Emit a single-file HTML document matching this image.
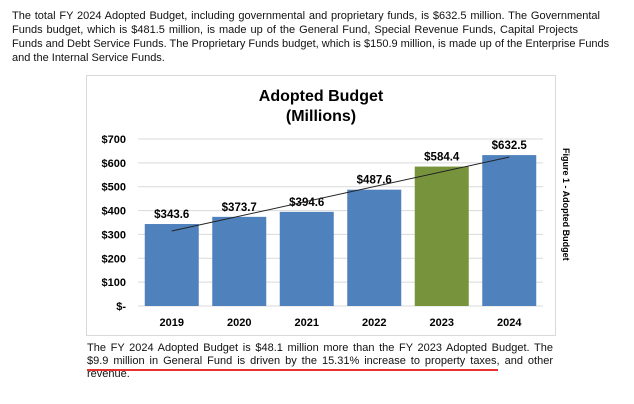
<!DOCTYPE html>
<html><head><meta charset="utf-8"><style>
body{margin:0;width:634px;height:404px;background:#fff;position:relative;overflow:hidden;font-family:"Liberation Sans",sans-serif}
.p{position:absolute;font-size:11px;color:#111}
.p div{white-space:nowrap;text-align:justify;text-align-last:justify}
.p div.last{text-align-last:left}
</style></head><body>
<div class="p" style="left:12px;top:9px;line-height:14px">
<div style="width:588px">The total FY 2024 Adopted Budget, including governmental and proprietary funds, is $632.5 million. The Governmental</div>
<div style="width:566px">Funds budget, which is $481.5 million, is made up of the General Fund, Special Revenue Funds, Capital Projects</div>
<div style="width:591px">Funds and Debt Service Funds. The Proprietary Funds budget, which is $150.9 million, is made up of the Enterprise Funds</div>
<div class="last" style="width:200px">and the Internal Service Funds.</div>
</div>
<div class="p" style="left:87px;top:342px;line-height:13px">
<div style="width:466px">The FY 2024 Adopted Budget is $48.1 million more than the FY 2023 Adopted Budget. The</div>
<div style="width:466px">$9.9 million in General Fund is driven by the 15.31% increase to property taxes, and other</div>
<div class="last" style="width:100px">revenue.</div>
</div>
<div style="position:absolute;left:87px;top:369px;width:411px;height:2px;background:#e8312f"></div>
<svg id="c" width="634" height="404" style="position:absolute;left:0;top:0" xmlns="http://www.w3.org/2000/svg" font-family="Liberation Sans, sans-serif">
<rect x="86.5" y="75.5" width="469" height="260" fill="none" stroke="#d9d9d9"/>
<text x="321" y="101" text-anchor="middle" font-size="16" font-weight="bold">Adopted Budget</text>
<text x="321" y="121" text-anchor="middle" font-size="16" font-weight="bold">(Millions)</text>
<text transform="translate(563,148) rotate(90)" font-size="9" font-weight="bold">Figure 1 -  Adopted Budget</text>
<g id="g"></g>
</svg>
<script>
const years=["2019","2020","2021","2022","2023","2024"];
const values=[343.6,373.7,394.6,487.6,584.4,632.5];
const labels=["$343.6","$373.7","$394.6","$487.6","$584.4","$632.5"];
const ticks=[0,100,200,300,400,500,600,700];
const tickLabels=["$-","$100","$200","$300","$400","$500","$600","$700"];
const colors=["#4f81bd","#4f81bd","#4f81bd","#4f81bd","#77933c","#4f81bd"];
const NS="http://www.w3.org/2000/svg",g=document.getElementById('g');
const L=138,R=543,Y0=306,Y7=139;
const y=v=>Y0-(v/700)*(Y0-Y7);
const bw=(R-L)/years.length;
const xc=i=>L+bw*(i+0.5);
function mk(t,a,txt){const e=document.createElementNS(NS,t);for(const k in a)e.setAttribute(k,a[k]);if(txt!=null)e.textContent=txt;g.appendChild(e);return e;}
ticks.forEach((t,i)=>{
 const l=mk('line',{x1:L,x2:R,y1:y(t),y2:y(t),stroke:'#d9d9d9','stroke-width':1});
 
 
 const tx=mk('text',{x:126,y:y(t)+4,'text-anchor':'end','font-size':11,'font-weight':'bold'},tickLabels[i]);
 
 
});
years.forEach((yr,i)=>{
 const b=mk('rect',{x:xc(i)-27,y:y(values[i]),width:54,height:Y0-y(values[i]),fill:colors[i]});
 
 
 const v=mk('text',{x:xc(i),y:y(values[i])-6,'text-anchor':'middle','font-size':11.5,'font-weight':'bold'},labels[i]);
 
 
 const c=mk('text',{x:xc(i),y:326,'text-anchor':'middle','font-size':11,'font-weight':'bold'},yr);
 
 
});
const n=values.length,mx=(n+1)/2,my=values.reduce((a,b)=>a+b)/n;
let sxy=0,sxx=0;values.forEach((v,i)=>{sxy+=(i+1-mx)*(v-my);sxx+=(i+1-mx)**2});
const sl=sxy/sxx,f=x=>my+sl*(x-mx);
const tl=mk('line',{x1:xc(0),y1:y(f(1)),x2:xc(n-1),y2:y(f(n)),stroke:'#222','stroke-width':1});


</script>
</body></html>
